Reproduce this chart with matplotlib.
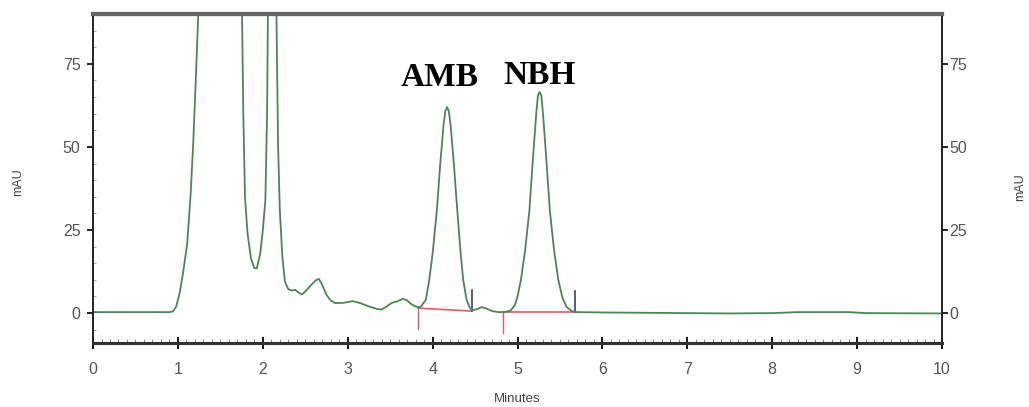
import matplotlib.pyplot as plt
from matplotlib.ticker import MultipleLocator

# chromatogram (minutes, mAU)
time = [0.00, 0.50, 0.90, 0.94, 0.98, 1.02, 1.06, 1.11, 1.15, 1.18, 1.21, 1.24, 1.30, 1.45,
        1.60, 1.72, 1.755, 1.77, 1.79, 1.82, 1.86, 1.90, 1.93, 1.97, 2.00, 2.03, 2.05, 2.06,
        2.10, 2.14, 2.16, 2.18, 2.20, 2.23, 2.26, 2.30, 2.34, 2.38, 2.42, 2.46, 2.50, 2.56,
        2.62, 2.66, 2.70, 2.75, 2.80, 2.85, 2.95, 3.06, 3.15, 3.25, 3.35, 3.40, 3.46, 3.52,
        3.58, 3.65, 3.70, 3.76, 3.82, 3.86,
        3.92, 3.96, 4.00, 4.05, 4.09, 4.13, 4.15, 4.17, 4.19, 4.21, 4.25, 4.29, 4.33, 4.36,
        4.40, 4.44, 4.47, 4.52, 4.58, 4.64, 4.70, 4.78, 4.85,
        4.92, 4.97, 5.00, 5.04, 5.09, 5.14, 5.18, 5.22, 5.24, 5.26, 5.28, 5.30, 5.34, 5.38,
        5.43, 5.48, 5.53, 5.58, 5.64, 5.70,
        6.00, 7.00, 7.50, 8.00, 8.30, 8.60, 8.90, 9.10, 10.00]
mau = [0.3, 0.3, 0.3, 0.5, 2, 6, 12, 21, 36, 51, 70, 90, 150, 200,
       180, 120, 90, 60, 35, 24, 16.5, 13.5, 13.5, 18, 25, 34, 60, 90,
       150, 140, 90, 50, 31, 17, 9.5, 7.2, 6.8, 7.0, 6.2, 5.6, 6.5, 8.2,
       9.8, 10.3, 8.5, 5.5, 3.8, 3.0, 3.1, 3.6, 3.0, 2.0, 1.2, 1.1, 2.0, 3.1,
       3.5, 4.3, 3.8, 2.5, 1.8, 1.9,
       4, 10, 18, 31, 45, 57, 60.8, 62, 60.8, 57, 45, 31, 18, 10,
       4, 1.5, 0.8, 1.2, 1.8, 1.3, 0.6, 0.3, 0.3,
       0.8, 2.5, 5, 10, 19, 31, 46, 60, 65.5, 66.5, 65.5, 60, 46, 31,
       19, 10, 4.5, 1.8, 0.6, 0.3,
       0.2, 0.0, -0.1, 0.0, 0.3, 0.3, 0.3, 0.0, -0.1]

# integration baselines and peak labels
peak_names = ["AMB", "NBH"]
label_t = [4.08, 5.26]
label_y = [68.4, 69.0]
base_start = [3.83, 4.83]
base_start_val = [1.5, 0.3]
base_end = [4.46, 5.68]
base_end_val = [0.6, 0.3]

lab_font = ['Liberation Sans', 'DejaVu Sans']

fig = plt.figure(figsize=(10.29, 4.07), dpi=100)
ax = fig.add_axes([0.0904, 0.1572, 0.8251, 0.8084])

ax.plot(time, mau, color='#4a8753', lw=1.3, zorder=3)

for i in range(len(peak_names)):
    ax.plot([base_start[i], base_end[i]], [base_start_val[i], base_end_val[i]],
            color='#d9606a', lw=1.2, zorder=2)
    ax.plot([base_start[i], base_start[i]], [base_start_val[i], base_start_val[i] - 6.2],
            color='#d9606a', lw=1.0)
    ax.plot([base_end[i], base_end[i]], [base_end_val[i], base_end_val[i] + 6.3],
            color='#3b3b8a', lw=1.2)
    ax.text(label_t[i], label_y[i], peak_names[i], ha='center', va='baseline',
            fontsize=24, fontweight='bold', family=['Liberation Serif', 'DejaVu Serif'])

ax.set_xlim(0, 10)
ax.set_ylim(-9, 90)

ax.set_xticks(range(0, 11))
ax.set_yticks([0, 25, 50, 75])
ax.xaxis.set_minor_locator(MultipleLocator(0.1))
ax.yaxis.set_minor_locator(MultipleLocator(5))
ax.tick_params(axis='x', which='major', direction='inout', length=8, width=1.3,
               labelsize=11.5, labelcolor='#555555', pad=10)
ax.tick_params(axis='x', which='minor', direction='in', length=3, width=0.6, color='#777777')
ax.tick_params(axis='y', which='major', direction='out', length=4, width=1.2,
               labelsize=11.5, labelcolor='#555555', pad=5)
ax.tick_params(axis='y', which='minor', direction='in', length=2, width=0.6,
               color='#999999', left=True, right=True)

# right-hand scale
ax2 = ax.twinx()
ax2.set_ylim(-9, 90)
ax2.set_yticks([0, 25, 50, 75])
ax2.tick_params(axis='y', which='major', direction='out', length=4, width=1.2,
                labelsize=11.5, labelcolor='#555555', pad=1)
ax2.tick_params(axis='y', which='minor', right=False)

for t in ax.get_xticklabels() + ax.get_yticklabels() + ax2.get_yticklabels():
    t.set_family(lab_font)

for a in [ax, ax2]:
    for s in ['left', 'right']:
        a.spines[s].set_linewidth(1.2)
        a.spines[s].set_color('#222222')
    a.spines['bottom'].set_linewidth(2.2)
    a.spines['bottom'].set_color('#333333')
    a.spines['top'].set_linewidth(3)
    a.spines['top'].set_color('#666666')

ax.set_xlabel("Minutes", fontsize=9.5, color='#444444', labelpad=11, family=lab_font)
fig.text(0.0175, 0.553, "mAU", rotation=90, ha='center', va='center',
         fontsize=9, color='#444444', family=lab_font)
fig.text(0.991, 0.54, "mAU", rotation=90, ha='center', va='center',
         fontsize=9, color='#444444', family=lab_font)

fig.savefig("out.png", dpi=100)
